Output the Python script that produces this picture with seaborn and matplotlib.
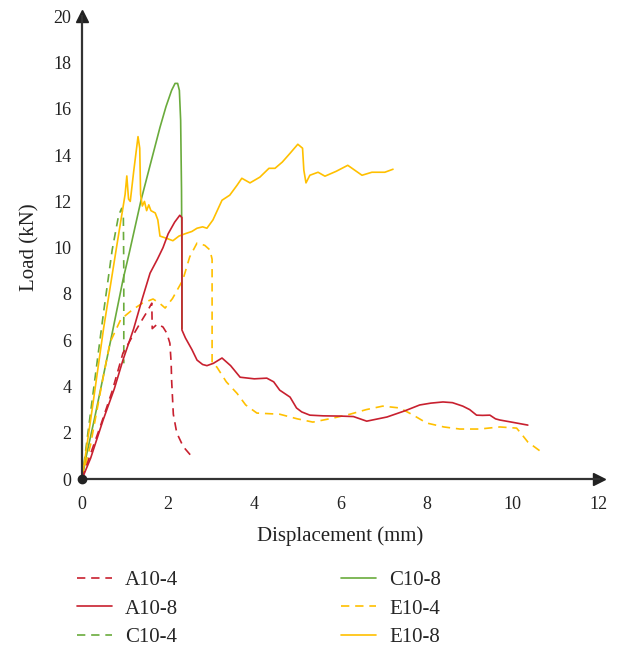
import matplotlib
matplotlib.use("Agg")
import matplotlib.pyplot as plt
import seaborn as sns
import numpy as np

# ---- data ----
a104_x = [0, 0.2, 0.42, 0.7, 0.95, 1.15, 1.35, 1.5, 1.62, 1.63, 1.75, 1.88, 1.97, 2.04, 2.07, 2.08, 2.12, 2.2, 2.35, 2.58]
a104_y = [0, 1.1, 2.25, 3.8, 5.44, 6.1, 6.74, 7.2, 7.6, 6.5, 6.7, 6.57, 6.3, 5.87, 5.0, 4.28, 2.8, 1.99, 1.4, 0.9]

a108_x = [0, 0.2, 0.49, 0.75, 0.95, 1.2, 1.4, 1.58, 1.75, 1.88, 2.0, 2.15, 2.27, 2.32, 2.32, 2.4, 2.55, 2.67, 2.8, 2.9, 3.05, 3.25,
          3.45, 3.67, 4.0, 4.29, 4.45, 4.59, 4.83, 4.98, 5.1, 5.29, 5.6, 5.99, 6.3, 6.61, 7.08, 7.5, 7.84, 8.1, 8.38, 8.6, 8.84,
          9.0, 9.16, 9.3, 9.47, 9.6, 9.7, 10.0, 10.35]
a108_y = [0, 0.9, 2.55, 3.9, 5.14, 6.5, 7.8, 8.9, 9.5, 10.0, 10.6, 11.1, 11.4, 11.3, 6.44, 6.1, 5.6, 5.14, 4.95, 4.9, 5.0, 5.23,
          4.9, 4.4, 4.33, 4.36, 4.2, 3.84, 3.54, 3.07, 2.9, 2.76, 2.73, 2.72, 2.7, 2.5, 2.68, 2.95, 3.2, 3.28, 3.33, 3.3, 3.15,
          3.0, 2.76, 2.75, 2.76, 2.6, 2.55, 2.45, 2.33]

c104_x = [0, 0.2, 0.5, 0.7, 0.85, 0.92, 0.96, 0.97, 0.97]
c104_y = [0, 2.9, 7.2, 9.9, 11.4, 11.7, 11.3, 9.0, 5.0]

c108_x = [0, 0.1, 0.3, 0.5, 0.7, 0.95, 1.1, 1.37, 1.6, 1.81, 1.95, 2.08, 2.16, 2.22, 2.26, 2.29, 2.31, 2.32, 2.32]
c108_y = [0, 1.0, 2.7, 4.5, 6.3, 8.6, 9.8, 12.05, 13.7, 15.2, 16.1, 16.8, 17.1, 17.1, 16.8, 15.5, 12.5, 9.0, 6.5]

e104_x = [0, 0.2, 0.45, 0.65, 0.9, 1.16, 1.4, 1.65, 1.8, 1.93, 2.1, 2.34, 2.5, 2.67, 2.85, 2.97, 3.02, 3.02, 3.13, 3.35, 3.6,
          3.8, 4.06, 4.59, 5.0, 5.36, 5.82, 6.22, 6.6, 6.98, 7.38, 7.7, 8.0, 8.4, 8.77, 9.23, 9.7, 10.09, 10.2, 10.35, 10.7]
e104_y = [0, 1.5, 4.0, 5.9, 6.9, 7.3, 7.6, 7.78, 7.6, 7.39, 7.8, 8.6, 9.6, 10.2, 10.1, 9.9, 9.5, 5.0, 4.84, 4.2, 3.7,
          3.2, 2.85, 2.8, 2.6, 2.46, 2.63, 2.8, 3.0, 3.15, 3.07, 2.75, 2.42, 2.25, 2.16, 2.16, 2.25, 2.2, 1.95, 1.6, 1.12]

e108_x = [0, 0.25, 0.5, 0.8, 1.0, 1.04, 1.08, 1.12, 1.2, 1.3, 1.34, 1.36, 1.4, 1.45, 1.5, 1.55, 1.6, 1.7, 1.76, 1.81, 1.97,
          2.11, 2.25, 2.39, 2.55, 2.67, 2.8, 2.9, 3.04, 3.25, 3.43, 3.6, 3.71, 3.9, 4.13, 4.34, 4.48, 4.65, 4.83, 5.01, 5.12,
          5.15, 5.2, 5.29, 5.48, 5.64, 5.9, 6.17, 6.5, 6.73, 7.03, 7.22]
e108_y = [0, 3.2, 6.5, 10.0, 12.3, 13.1, 12.1, 12.0, 13.3, 14.8, 14.3, 12.3, 11.8, 12.0, 11.6, 11.85, 11.6, 11.5, 11.2, 10.5, 10.4,
          10.3, 10.5, 10.6, 10.7, 10.84, 10.9, 10.84, 11.2, 12.05, 12.27, 12.7, 13.0, 12.8, 13.05, 13.43, 13.43, 13.7, 14.08, 14.47, 14.3,
          13.35, 12.8, 13.13, 13.26, 13.09, 13.3, 13.56, 13.13, 13.26, 13.26, 13.39]

x_ticks = [0, 2, 4, 6, 8, 10, 12]
y_ticks = [0, 2, 4, 6, 8, 10, 12, 14, 16, 18, 20]

RED = "#c8202f"
GREEN = "#6aab3c"
YELLOW = "#ffc000"

series = [
    ("A10-4", a104_x, a104_y, RED, (0, (5, 3.5))),
    ("A10-8", a108_x, a108_y, RED, "-"),
    ("C10-4", c104_x, c104_y, GREEN, (0, (5, 3.5))),
    ("C10-8", c108_x, c108_y, GREEN, "-"),
    ("E10-4", e104_x, e104_y, YELLOW, (0, (5, 3.5))),
    ("E10-8", e108_x, e108_y, YELLOW, "-"),
]

sns.set_style("white")
plt.rcParams["font.family"] = ["Liberation Serif", "DejaVu Serif"]

fig = plt.figure(figsize=(6.19, 6.48), dpi=100)
ax = fig.add_axes([0.1325, 0.2608, 0.835, 0.714])

draw_order = [3, 2, 5, 4, 0, 1]
handles = {}
for i in draw_order:
    name, xs, ys, col, ls = series[i]
    sns.lineplot(x=xs, y=ys, ax=ax, sort=False, estimator=None, color=col,
                 linewidth=1.2, linestyle=ls, label=name, legend=False)
    handles[i] = ax.lines[-1]

ax.set_xlim(0, 12)
ax.set_ylim(0, 20)
ax.set_xticks(x_ticks)
ax.set_yticks(y_ticks)
ax.tick_params(axis="both", direction="out", length=4, width=1.2, color="#333333",
               labelsize=13, labelcolor="#222222")
ax.tick_params(axis="x", pad=8)
ax.tick_params(axis="y", pad=3.5)
for s in ["top", "right"]:
    ax.spines[s].set_visible(False)
for s in ["left", "bottom"]:
    ax.spines[s].set_color("#333333")
    ax.spines[s].set_linewidth(1.6)

ax.plot(1, 0, ">", color="#222222", markersize=8, transform=ax.transAxes, clip_on=False)
ax.plot(0, 1, "^", color="#222222", markersize=8, transform=ax.transAxes, clip_on=False)
ax.plot(0, 0, "o", color="#222222", markersize=6, transform=ax.transAxes, clip_on=False, zorder=5)

ax.set_xlabel("Displacement (mm)", fontsize=15, color="#222222", labelpad=10)
ax.set_ylabel("Load (kN)", fontsize=15, color="#222222", labelpad=10)

leg_handles = [handles[i] for i in range(6)]
leg_labels = [s[0] for s in series]
fig.legend(leg_handles, leg_labels, loc="upper left", bbox_to_anchor=(0.111, 0.132),
           ncol=2, frameon=False, fontsize=15, handlelength=1.68, handletextpad=0.63,
           columnspacing=7.8, labelspacing=0.42, borderaxespad=0)

fig.savefig("out.png", dpi=100)
